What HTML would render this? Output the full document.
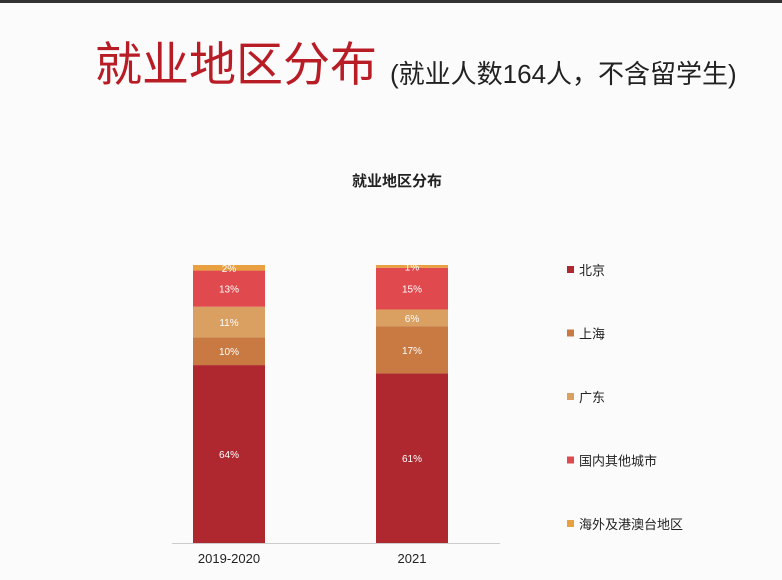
<!DOCTYPE html>
<html><head><meta charset="utf-8"><style>
body{margin:0;width:782px;height:580px;background:#fbfbfc;overflow:hidden;font-family:"Liberation Sans","Noto Sans CJK SC",sans-serif;position:relative}
.t{position:absolute;white-space:nowrap}
</style></head><body>
<div style="position:absolute;left:0;top:0;width:782px;height:3px;background:#333"></div>
<div class="t" style="left:95px;top:37px;font-size:47px;color:#b81c25;line-height:56px">就业地区分布</div>
<div class="t" style="left:390px;top:56px;font-size:26px;color:#222;line-height:36px">(就业人数164人，不含留学生)</div>
<svg width="782" height="580" style="position:absolute;left:0;top:0" id="chart"></svg>
<script>
const categories=["2019-2020","2021"];
const seriesNames=["北京","上海","广东","国内其他城市","海外及港澳台地区"];
const beijing=[64,61];
const shanghai=[10,17];
const guangdong=[11,6];
const otherCities=[13,15];
const overseas=[2,1];
const colors=["#b0282f","#c87a42","#d9a062","#e04a4e","#e8a040"];
const series=[beijing,shanghai,guangdong,otherCities,overseas];
const svg=document.getElementById('chart');
const NS="http://www.w3.org/2000/svg";
const base=543,top0=265,xL=[193,376],bw=72;
const y=v=>base-(v/100)*(base-top0);
function mk(t,a){const e=document.createElementNS(NS,t);for(const k in a)e.setAttribute(k,a[k]);svg.appendChild(e);return e;}
let tt=mk('text',{x:397,y:186,'text-anchor':'middle','font-size':15,'font-weight':'bold',fill:'#222'});tt.textContent="就业地区分布";


categories.forEach((c,i)=>{
  let cum=0;
  series.forEach((s,j)=>{
    const v=s[i];const y1=y(cum+v),y0=y(cum);
    const r=mk('rect',{x:xL[i],y:y1,width:bw,height:y0-y1,fill:colors[j]});
    
    
    const l=mk('text',{x:xL[i]+bw/2,y:(y0+y1)/2+4,'text-anchor':'middle','font-size':10,fill:'#fff'});
    l.textContent=v+'%';
    
    
    cum+=v;
  });
  const xl=mk('text',{x:xL[i]+bw/2,y:563,'text-anchor':'middle','font-size':13,fill:'#222'});
  xl.textContent=c;
  
  
});
const ax=mk('line',{x1:172,x2:500,y1:base+0.5,y2:base+0.5,stroke:'#ccc'});


seriesNames.forEach((n,j)=>{
  const yy=270+j*63.5;
  const s=mk('rect',{x:567,y:yy-4,width:7,height:7,fill:colors[j]});
  
  
  const t=mk('text',{x:579,y:yy+5,'font-size':13,fill:'#222'});t.textContent=n;
  
  
});
</script>
</body></html>
